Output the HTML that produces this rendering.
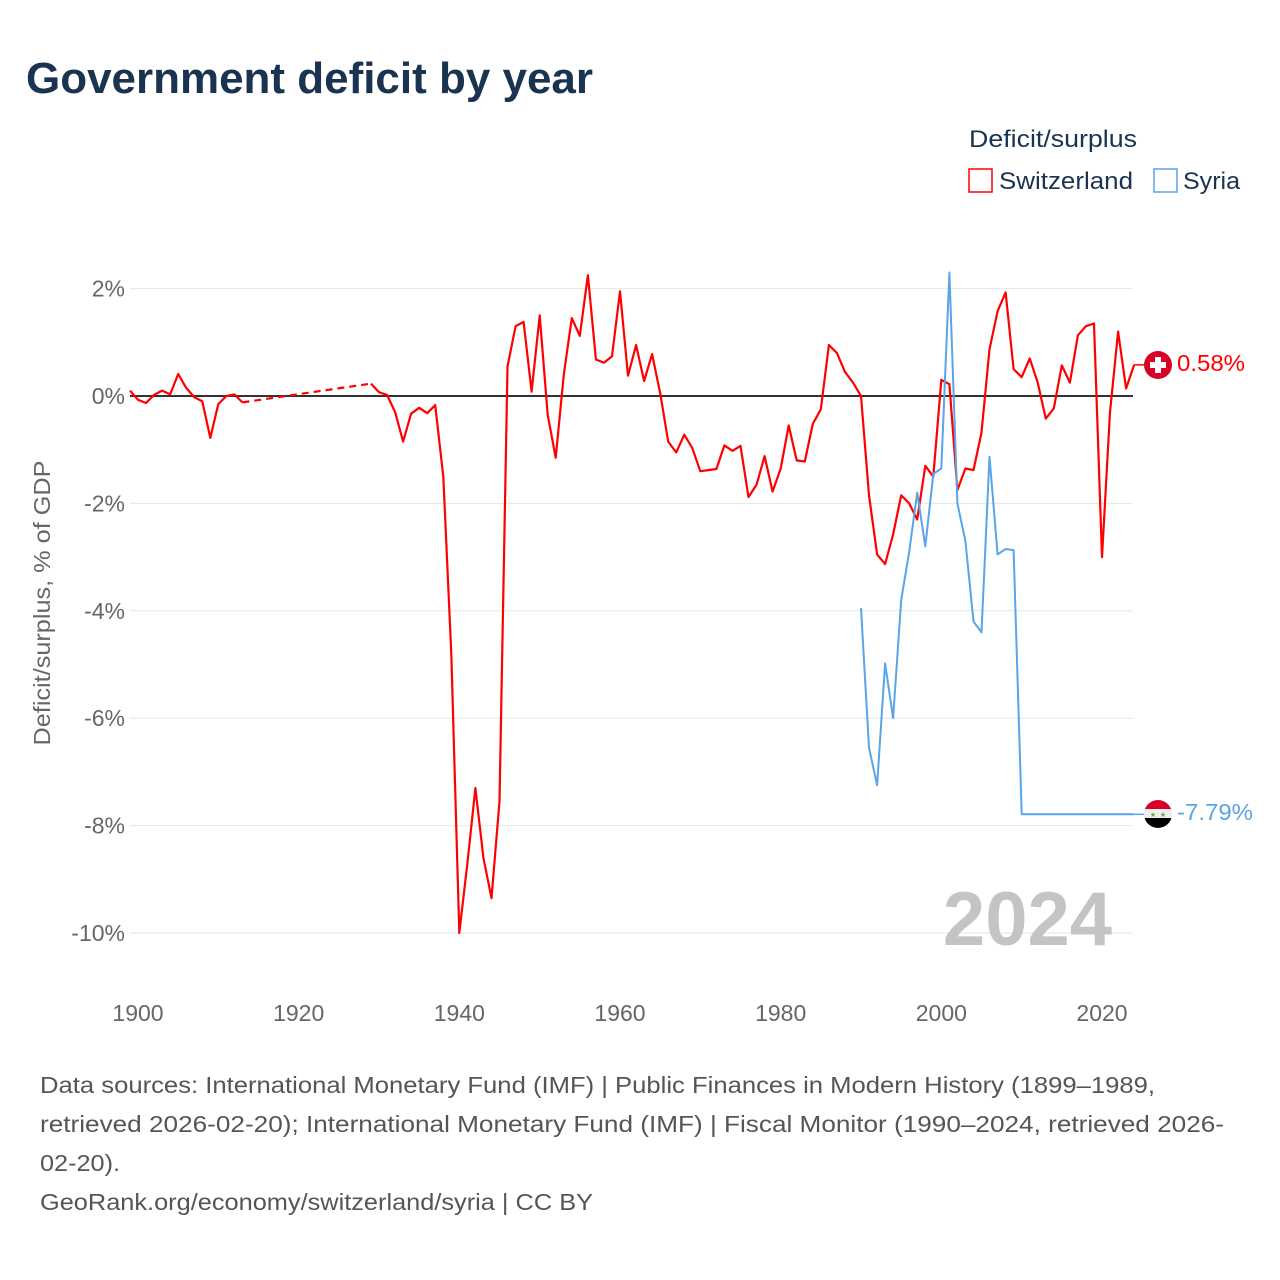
<!DOCTYPE html>
<html><head><meta charset="utf-8">
<style>
body{margin:0;background:#fff;font-family:"Liberation Sans",sans-serif;}
#wrap{position:relative;width:1280px;height:1280px;overflow:hidden;}
</style></head>
<body>
<div id="wrap">
<svg id="chart" width="1280" height="1280">
<text x="26" y="93" font-size="44" font-weight="bold" fill="#1a3350" textLength="567" lengthAdjust="spacingAndGlyphs">Government deficit by year</text>
<text x="969" y="147" font-size="24" fill="#1a3350" textLength="168" lengthAdjust="spacingAndGlyphs">Deficit/surplus</text>
<g>
<rect x="969" y="169" width="23" height="23" fill="none" stroke="#ff0000" stroke-width="1.5"/>
<text x="999" y="189" font-size="24" fill="#1a3350" textLength="134" lengthAdjust="spacingAndGlyphs">Switzerland</text></g>
<g>
<rect x="1154" y="169" width="23" height="23" fill="none" stroke="#5aa4e8" stroke-width="1.5"/>
<text x="1183" y="189" font-size="24" fill="#1a3350" textLength="57" lengthAdjust="spacingAndGlyphs">Syria</text></g>
<text transform="translate(50,603) rotate(-90)" text-anchor="middle" font-size="23" fill="#666" textLength="285" lengthAdjust="spacingAndGlyphs">Deficit/surplus, % of GDP</text>
<g id="grid"></g><g id="series"></g>
<text x="1112" y="945" text-anchor="end" font-size="76" font-weight="bold" fill="#c4c4c4">2024</text>
<g>
<circle cx="1158" cy="365" r="14" fill="#d80027"/>
<rect x="1155" y="357" width="6" height="16" fill="#fff"/><rect x="1150" y="362" width="16" height="6" fill="#fff"/></g>
<text x="1177" y="371" font-size="23" fill="#ff0000" textLength="68" lengthAdjust="spacingAndGlyphs">0.58%</text>
<g>
<clipPath id="sc"><circle cx="1158" cy="814" r="14"/></clipPath>
<g clip-path="url(#sc)"><rect x="1144" y="800" width="28" height="10" fill="#d80027"/><rect x="1144" y="809" width="28" height="10" fill="#eee"/><rect x="1144" y="818" width="28" height="10" fill="#000"/></g>
<text x="1153" y="817" font-size="7" fill="#6da544" text-anchor="middle">★</text><text x="1163" y="817" font-size="7" fill="#6da544" text-anchor="middle">★</text></g>
<text x="1177" y="820" font-size="23" fill="#5aa4e8" textLength="76" lengthAdjust="spacingAndGlyphs">-7.79%</text>
<g font-size="23" fill="#555">
<text x="40" y="1093" textLength="1115" lengthAdjust="spacingAndGlyphs">Data sources: International Monetary Fund (IMF) | Public Finances in Modern History (1899–1989,</text>
<text x="40" y="1132" textLength="1184" lengthAdjust="spacingAndGlyphs">retrieved 2026-02-20); International Monetary Fund (IMF) | Fiscal Monitor (1990–2024, retrieved 2026-</text>
<text x="40" y="1171" textLength="80" lengthAdjust="spacingAndGlyphs">02-20).</text>
<text x="40" y="1210" textLength="553" lengthAdjust="spacingAndGlyphs">GeoRank.org/economy/switzerland/syria | CC BY</text></g>
</svg>
</div>
<script>
const yTicks=[2,0,-2,-4,-6,-8,-10];
const xTicks=[1900,1920,1940,1960,1980,2000,2020];
const swissYearsA=[1899,1900,1901,1902,1903,1904,1905,1906,1907,1908,1909,1910,1911,1912,1913];
const swissValsA=[0.1,-0.07,-0.13,0.02,0.1,0.03,0.41,0.15,-0.02,-0.1,-0.78,-0.15,0,0.03,-0.12];
const swissYearsB=[];for(let y=1929;y<=2024;y++)swissYearsB.push(y);
const swissValsB=[0.23,0.07,0.02,-0.3,-0.85,-0.33,-0.22,-0.32,-0.17,-1.5,-4.8,-10,-8.7,-7.3,-8.6,-9.35,-7.55,0.55,1.3,1.38,0.08,1.5,-0.35,-1.15,0.4,1.45,1.12,2.25,0.68,0.62,0.74,1.95,0.38,0.95,0.28,0.78,0.05,-0.85,-1.05,-0.72,-0.97,-1.4,-1.38,-1.36,-0.92,-1.02,-0.93,-1.88,-1.65,-1.12,-1.78,-1.35,-0.55,-1.2,-1.22,-0.52,-0.25,0.95,0.8,0.45,0.25,0.0,-1.85,-2.95,-3.13,-2.58,-1.85,-2.0,-2.3,-1.3,-1.5,0.3,0.22,-1.75,-1.35,-1.38,-0.68,0.87,1.58,1.93,0.5,0.35,0.7,0.25,-0.42,-0.23,0.57,0.25,1.13,1.3,1.35,-3.0,-0.3,1.2,0.14,0.58];
const syriaYears=[];for(let y=1990;y<=2024;y++)syriaYears.push(y);
const syriaVals=[-3.95,-6.55,-7.25,-4.98,-6.0,-3.8,-2.9,-1.8,-2.8,-1.45,-1.35,2.3,-2.0,-2.7,-4.2,-4.4,-1.13,-2.95,-2.85,-2.87,-7.79,-7.79,-7.79,-7.79,-7.79,-7.79,-7.79,-7.79,-7.79,-7.79,-7.79,-7.79,-7.79,-7.79,-7.79];
const NS='http://www.w3.org/2000/svg';
const X=y=>138+(y-1900)*(964/120);
const Y=v=>396-v*53.7;
const grid=document.getElementById('grid'),ser=document.getElementById('series');
function mk(tag,attrs,parent){const e=document.createElementNS(NS,tag);for(const k in attrs)e.setAttribute(k,attrs[k]);parent.appendChild(e);return e;}
yTicks.forEach(t=>{
 const l=mk('line',{x1:130,x2:1133,y1:Y(t),y2:Y(t),stroke:t===0?'#333':'#e6e6e6','stroke-width':t===0?2:1},grid);
 
 
 const tx=mk('text',{x:125,y:Y(t)+8,'text-anchor':'end','font-size':23,fill:'#666'},grid);
 tx.textContent=t+'%';
 
 
});
xTicks.forEach(t=>{
 const tx=mk('text',{x:X(t),y:1021,'text-anchor':'middle','font-size':23,fill:'#666'},grid);
 tx.textContent=t;
 
 
});
function pts(ys,vs){return ys.map((y,i)=>X(y).toFixed(1)+','+Y(vs[i]).toFixed(1)).join(' ');}
const a=mk('polyline',{points:pts(swissYearsA,swissValsA),fill:'none',stroke:'#ff0000','stroke-width':2.2,'stroke-linejoin':'round'},ser);


const d=mk('polyline',{points:pts([swissYearsA[swissYearsA.length-1],swissYearsB[0]],[swissValsA[swissValsA.length-1],swissValsB[0]]),fill:'none',stroke:'#ff0000','stroke-width':2.2,'stroke-dasharray':'7,5'},ser);


const b=mk('polyline',{points:pts(swissYearsB,swissValsB),fill:'none',stroke:'#ff0000','stroke-width':2.2,'stroke-linejoin':'round'},ser);


const s=mk('polyline',{points:pts(syriaYears,syriaVals),fill:'none',stroke:'#5aa4e8','stroke-width':2,'stroke-linejoin':'round'},ser);


const c1=mk('line',{x1:X(2024),x2:1144,y1:Y(swissValsB[swissValsB.length-1]),y2:Y(swissValsB[swissValsB.length-1]),stroke:'#ff0000','stroke-width':1.5},ser);


const c2=mk('line',{x1:X(2024),x2:1144,y1:Y(syriaVals[syriaVals.length-1]),y2:Y(syriaVals[syriaVals.length-1]),stroke:'#5aa4e8','stroke-width':1.5},ser);


</script>
</body></html>
